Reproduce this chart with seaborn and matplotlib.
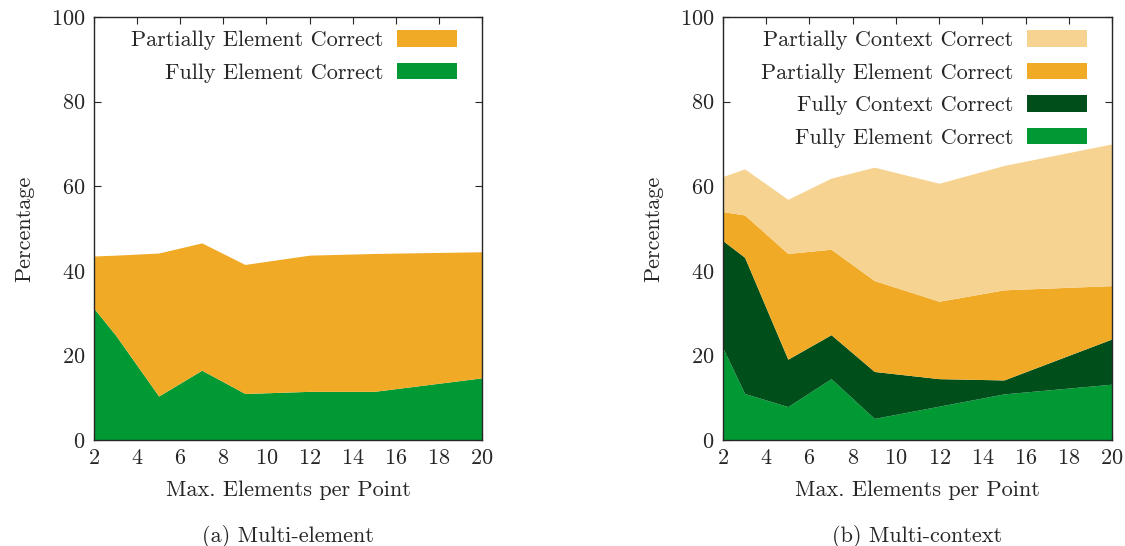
import numpy as np
import pandas as pd
import matplotlib
matplotlib.use("Agg")
import matplotlib.pyplot as plt
from matplotlib.patches import Patch
import seaborn as sns

# data (layer heights, stacked bottom -> top)
max_elements = [2, 3, 5, 7, 9, 12, 15, 20]

# (a) multi-element
a_fully_element = [31.1, 24.8, 10.4, 16.5, 11.0, 11.5, 11.5, 14.7]
a_partially_element = [12.4, 18.9, 33.8, 30.1, 30.5, 32.2, 32.6, 29.8]

# (b) multi-context
b_fully_element = [21.7, 11.0, 7.9, 14.5, 5.1, 8.0, 10.9, 13.2]
b_fully_context = [25.4, 32.2, 11.2, 10.4, 11.1, 6.5, 3.3, 10.7]
b_partially_element = [6.9, 10.0, 25.0, 20.2, 21.5, 18.3, 21.3, 12.6]
b_partially_context = [8.3, 10.9, 12.8, 16.8, 26.8, 27.9, 29.4, 33.5]

GREEN = "#009933"
DARK_GREEN = "#004F1B"
ORANGE = "#F0AA26"
LIGHT = "#F6D391"

FS = 16

sns.set_style("ticks")
plt.rcParams["font.family"] = ["cmr10", "DejaVu Serif"]
plt.rcParams["axes.formatter.use_mathtext"] = True
plt.rcParams["font.size"] = FS


def stacked_panel(ax, layers, labels, colors):
    df = pd.DataFrame({lab: vals for lab, vals in zip(labels, layers)}, index=max_elements)
    ax.stackplot(df.index, *[df[c] for c in df.columns], colors=colors, linewidth=0)
    ax.set_xlim(2, 20)
    ax.set_ylim(0, 100)
    ax.set_xticks(range(2, 21, 2))
    ax.set_yticks(range(0, 101, 20))
    ax.tick_params(direction="in", top=True, right=True, length=5, width=0.8, labelsize=FS, pad=6)
    for s in ax.spines.values():
        s.set_linewidth(1.0)
    ax.set_xlabel("Max. Elements per Point", fontsize=FS, labelpad=9)
    ax.set_ylabel("Percentage", fontsize=FS, labelpad=12)
    handles = [Patch(facecolor=c, edgecolor="none") for c in colors][::-1]
    ax.legend(handles, labels[::-1], loc="upper right", frameon=False, markerfirst=False,
              handlelength=2.7, handleheight=0.77, labelspacing=0.56, handletextpad=0.6,
              fontsize=FS, borderaxespad=0.3, bbox_to_anchor=(0.975, 1.005))


fig = plt.figure(figsize=(11.25, 5.46), dpi=100)
ax1 = fig.add_axes([94 / 1125, 106 / 546, 388 / 1125, 423 / 546])
ax2 = fig.add_axes([723 / 1125, 106 / 546, 389 / 1125, 423 / 546])

stacked_panel(ax1, [a_fully_element, a_partially_element],
              ["Fully Element Correct", "Partially Element Correct"],
              [GREEN, ORANGE])
stacked_panel(ax2, [b_fully_element, b_fully_context, b_partially_element, b_partially_context],
              ["Fully Element Correct", "Fully Context Correct",
               "Partially Element Correct", "Partially Context Correct"],
              [GREEN, DARK_GREEN, ORANGE, LIGHT])

fig.text(288 / 1125, 1 - 536 / 546, "(a) Multi-element", ha="center", va="center", fontsize=FS)
fig.text(917 / 1125, 1 - 536 / 546, "(b) Multi-context", ha="center", va="center", fontsize=FS)

fig.savefig("out.png", dpi=100)
